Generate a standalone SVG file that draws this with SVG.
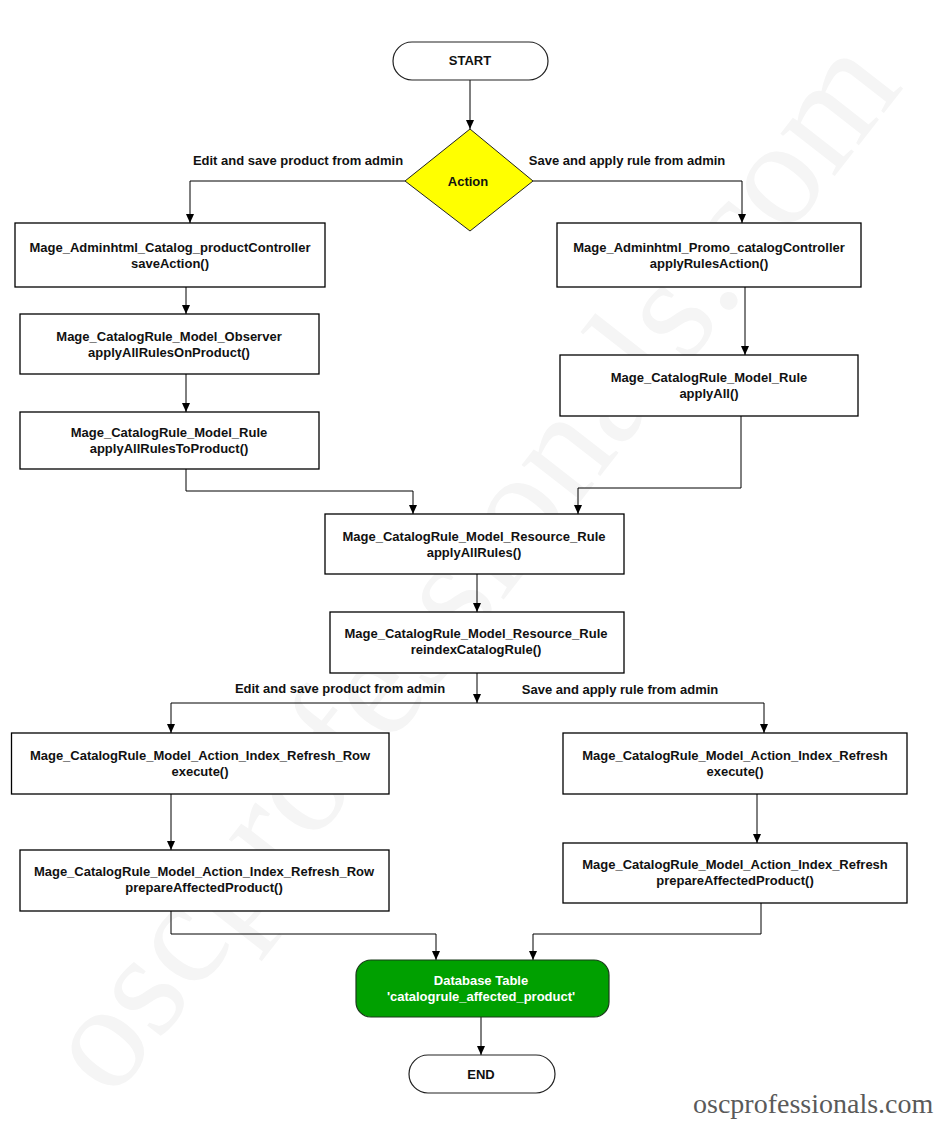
<svg xmlns="http://www.w3.org/2000/svg" width="945" height="1123" viewBox="0 0 945 1123">
<style>
  .bg { fill: #ffffff; }
  .box { fill: #ffffff; stroke: #000000; stroke-width: 1.3; }
  .pill { fill: #ffffff; stroke: #222222; stroke-width: 1.2; }
  .dia { fill: #ffff00; stroke: #222222; stroke-width: 1; }
  .db { fill: #00a000; stroke: #1a3a1a; stroke-width: 1.2; }
  .t { font-family: "Liberation Sans", Arial, sans-serif; font-size: 13px; font-weight: bold; fill: #111111; text-anchor: middle; }
  .tw { fill: #ffffff; }
  .conn { fill: none; stroke: #000000; stroke-width: 1; }
  .wm { font-family: "Liberation Serif", "Times New Roman", serif; font-size: 150px; fill: #f5f5f5; }
  .brand { font-family: "Liberation Serif", "Times New Roman", serif; font-size: 28px; fill: #5a5a5a; }
</style>
<defs>
  <marker id="arr" markerUnits="userSpaceOnUse" markerWidth="10" markerHeight="10" refX="9" refY="4" orient="auto">
    <path d="M0,0 L9,4 L0,8 z" fill="#000000"/>
  </marker>
</defs>
<rect class="bg" x="0" y="0" width="945" height="1123"/>
<text class="wm" transform="translate(112,1101) rotate(-52)">oscprofessionals.com</text>

<g id="connectors">
  <path class="conn" d="M470,80 V129" marker-end="url(#arr)"/>
  <path class="conn" d="M405,181 H190 V223" marker-end="url(#arr)"/>
  <path class="conn" d="M533,181 H742 V223" marker-end="url(#arr)"/>
  <path class="conn" d="M186,287 V314" marker-end="url(#arr)"/>
  <path class="conn" d="M186,374 V412" marker-end="url(#arr)"/>
  <path class="conn" d="M745,287 V355" marker-end="url(#arr)"/>
  <path class="conn" d="M186,469 V491 H413 V514" marker-end="url(#arr)"/>
  <path class="conn" d="M741,416 V488 H578 V514" marker-end="url(#arr)"/>
  <path class="conn" d="M477,574 V612" marker-end="url(#arr)"/>
  <path class="conn" d="M477,673 V703" marker-end="url(#arr)"/>
  <path class="conn" d="M477,703 H171 V733" marker-end="url(#arr)"/>
  <path class="conn" d="M477,703 H764 V733" marker-end="url(#arr)"/>
  <path class="conn" d="M171,794 V850" marker-end="url(#arr)"/>
  <path class="conn" d="M757,794 V843" marker-end="url(#arr)"/>
  <path class="conn" d="M171,911 V934 H436 V960" marker-end="url(#arr)"/>
  <path class="conn" d="M761,903 V934 H533 V960" marker-end="url(#arr)"/>
  <path class="conn" d="M481,1017 V1055" marker-end="url(#arr)"/>
  <text class="t" x="298" y="165">Edit and save product from admin</text>
  <text class="t" x="627" y="165">Save and apply rule from admin</text>
  <text class="t" x="340" y="693">Edit and save product from admin</text>
  <text class="t" x="620" y="694">Save and apply rule from admin</text>
</g>

<g id="start">
  <rect class="pill" x="393" y="42" width="155" height="38" rx="19" ry="19"/>
  <text class="t" x="470" y="65">START</text>
</g>

<g id="action">
  <polygon class="dia" points="470,129 533,181 470,231 405,181"/>
  <text class="t" x="468" y="186">Action</text>
</g>

<g id="productController">
  <rect class="box" x="15" y="223" width="310" height="64"/>
  <text class="t" x="170" y="252">Mage_Adminhtml_Catalog_productController</text>
  <text class="t" x="170" y="268">saveAction()</text>
</g>

<g id="promoController">
  <rect class="box" x="557" y="223" width="304" height="64"/>
  <text class="t" x="709" y="252">Mage_Adminhtml_Promo_catalogController</text>
  <text class="t" x="709" y="268">applyRulesAction()</text>
</g>

<g id="observer">
  <rect class="box" x="20" y="314" width="299" height="60"/>
  <text class="t" x="169" y="341">Mage_CatalogRule_Model_Observer</text>
  <text class="t" x="169" y="357">applyAllRulesOnProduct()</text>
</g>

<g id="ruleProduct">
  <rect class="box" x="20" y="412" width="299" height="57"/>
  <text class="t" x="169" y="437">Mage_CatalogRule_Model_Rule</text>
  <text class="t" x="169" y="453">applyAllRulesToProduct()</text>
</g>

<g id="ruleApplyAll">
  <rect class="box" x="560" y="355" width="298" height="61"/>
  <text class="t" x="709" y="382">Mage_CatalogRule_Model_Rule</text>
  <text class="t" x="709" y="398">applyAll()</text>
</g>

<g id="resourceApplyAll">
  <rect class="box" x="325" y="514" width="299" height="60"/>
  <text class="t" x="474" y="541">Mage_CatalogRule_Model_Resource_Rule</text>
  <text class="t" x="474" y="557">applyAllRules()</text>
</g>

<g id="resourceReindex">
  <rect class="box" x="330" y="612" width="294" height="61"/>
  <text class="t" x="476" y="638">Mage_CatalogRule_Model_Resource_Rule</text>
  <text class="t" x="476" y="654">reindexCatalogRule()</text>
</g>

<g id="rowExecute">
  <rect class="box" x="11.5" y="733" width="377.5" height="61"/>
  <text class="t" x="200" y="760">Mage_CatalogRule_Model_Action_Index_Refresh_Row</text>
  <text class="t" x="200" y="776">execute()</text>
</g>

<g id="refreshExecute">
  <rect class="box" x="563" y="733" width="344" height="61"/>
  <text class="t" x="735" y="760">Mage_CatalogRule_Model_Action_Index_Refresh</text>
  <text class="t" x="735" y="776">execute()</text>
</g>

<g id="rowPrepare">
  <rect class="box" x="20" y="850" width="369" height="61"/>
  <text class="t" x="204" y="876">Mage_CatalogRule_Model_Action_Index_Refresh_Row</text>
  <text class="t" x="204" y="892">prepareAffectedProduct()</text>
</g>

<g id="refreshPrepare">
  <rect class="box" x="563" y="843" width="344" height="60"/>
  <text class="t" x="735" y="869">Mage_CatalogRule_Model_Action_Index_Refresh</text>
  <text class="t" x="735" y="885">prepareAffectedProduct()</text>
</g>

<g id="dbTable">
  <rect class="db" x="356" y="960" width="253" height="57" rx="15" ry="15"/>
  <text class="t tw" x="481" y="985">Database Table</text>
  <text class="t tw" x="481" y="1001">'catalogrule_affected_product'</text>
</g>

<g id="end">
  <rect class="pill" x="409" y="1055" width="146" height="38" rx="19" ry="19"/>
  <text class="t" x="481" y="1079">END</text>
</g>

<text class="brand" x="693" y="1113">oscprofessionals.com</text>
</svg>
